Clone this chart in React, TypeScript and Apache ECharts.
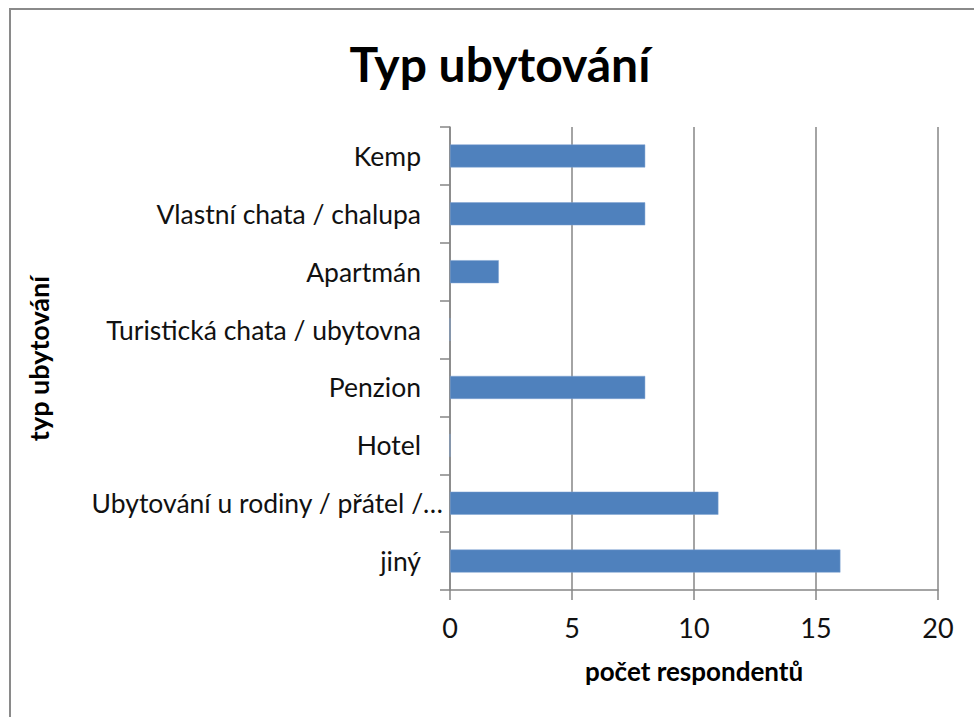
import React, { useEffect, useRef } from "react";
import * as echarts from "echarts";

const categories = [
  "jiný",
  "Ubytování u rodiny / přátel /…",
  "Hotel",
  "Penzion",
  "Turistická chata / ubytovna",
  "Apartmán",
  "Vlastní chata / chalupa",
  "Kemp",
];
const values = [16, 11, 0, 8, 0, 2, 8, 8];
const xTicks = [0, 5, 10, 15, 20];

const FONT = "Lato, 'Open Sans', sans-serif";

export default function App() {
  const ref = useRef<HTMLDivElement>(null);
  useEffect(() => {
    document.body.style.margin = "0";
    const chart = echarts.init(ref.current!, null, { renderer: "svg" });
    const catData = categories.map((c) =>
      c.endsWith("…") ? { value: c, textStyle: { padding: [0, -22, 0, 0] } } : c
    );
    chart.setOption({
      animation: false,
      backgroundColor: "#ffffff",
      title: {
        text: "Typ ubytování",
        left: 495,
        top: 34,
        textAlign: "center",
        textStyle: { fontFamily: FONT, fontSize: 48, fontWeight: "bold", color: "#000" },
      },
      graphic: [
        {
          type: "rect",
          shape: { x: 10, y: 9, width: 1000, height: 760 },
          style: { fill: "none", stroke: "#8a8a8a", lineWidth: 2 },
          silent: true,
        },
      ],
      grid: { left: 450, right: 36, top: 127, bottom: 127, containLabel: false },
      xAxis: {
        type: "value",
        min: xTicks[0],
        max: xTicks[xTicks.length - 1],
        interval: 5,
        name: "počet respondentů",
        nameLocation: "middle",
        nameGap: 68,
        nameTextStyle: { fontFamily: FONT, fontSize: 26, fontWeight: "bold", color: "#000", verticalAlign: "top" },
        axisLine: { show: true, lineStyle: { color: "#868686", width: 1.5 } },
        axisTick: { show: true, length: 10, lineStyle: { color: "#868686", width: 1.5 } },
        axisLabel: { fontFamily: FONT, fontSize: 27, color: "#111", margin: 24 },
        splitLine: { show: true, lineStyle: { color: "#868686", width: 1.5 } },
      },
      yAxis: {
        type: "category",
        data: catData,
        name: "typ ubytování",
        nameLocation: "middle",
        nameGap: 398,
        nameRotate: 90,
        nameTextStyle: { fontFamily: FONT, fontSize: 27, fontWeight: "bold", color: "#000" },
        axisLine: { show: true, lineStyle: { color: "#868686", width: 1.5 } },
        axisTick: { show: true, length: 10, alignWithLabel: false, lineStyle: { color: "#868686", width: 1.5 } },
        axisLabel: { fontFamily: FONT, fontSize: 26.5, color: "#111", margin: 29 },
        splitLine: { show: false },
      },
      series: [
        {
          type: "bar",
          data: values,
          barWidth: 23,
          itemStyle: { color: "#4F81BD", borderColor: "#7ea3d2", borderWidth: 0.5 },
        },
      ],
    });
    return () => chart.dispose();
  }, []);
  return <div ref={ref} style={{ width: 974, height: 717 }} />;
}
